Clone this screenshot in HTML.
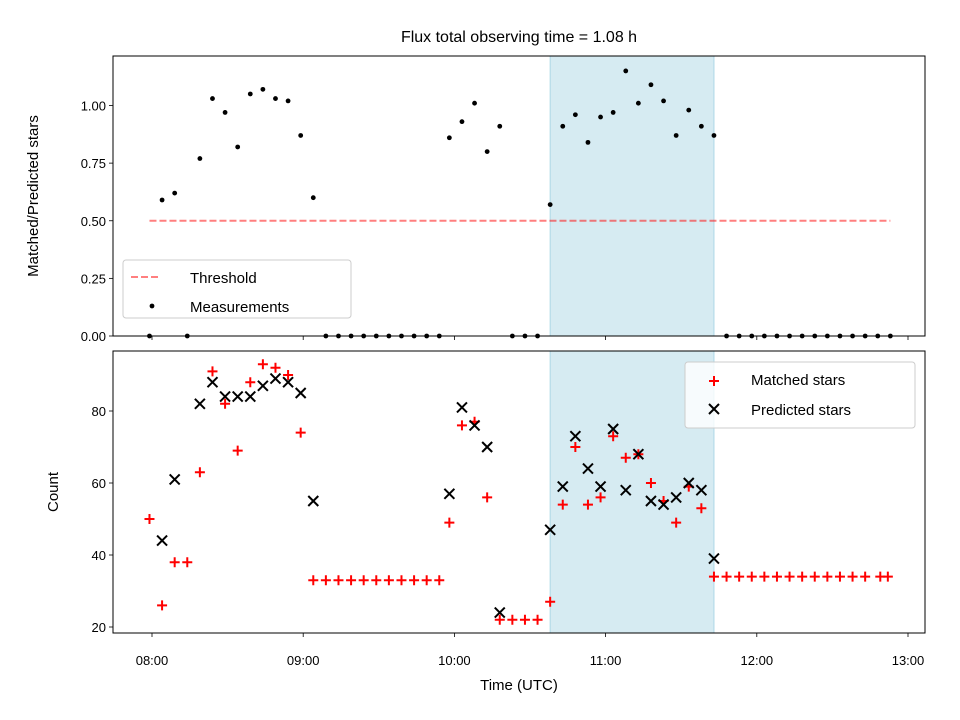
<!DOCTYPE html>
<html><head><meta charset="utf-8"><style>
body{margin:0;background:#fff}
svg{display:block;font-family:"Liberation Sans","DejaVu Sans",sans-serif}
</style></head><body>
<svg id="c" width="960" height="720" xmlns="http://www.w3.org/2000/svg"></svg>
<script>
// minutes since 08:00
const tMatched=[-1,4,9,14,19,24,29,34,39,44,49,54,59,64,69,74,79,84,89,94,99,104,109,114,118,123,128,133,138,143,148,153,158,163,168,173,178,183,188,193,198,203,208,213,218,223,228,233,238,243,248,253,258,263,268,273,278,283,289,292];
const matched=[50,26,38,38,63,91,82,69,88,93,92,90,74,33,33,33,33,33,33,33,33,33,33,33,49,76,77,56,22,22,22,22,27,54,70,54,56,73,67,68,60,55,49,59,53,34,34,34,34,34,34,34,34,34,34,34,34,34,34,34];
const tPred=[4,9,19,24,29,34,39,44,49,54,59,64,118,123,128,133,138,158,163,168,173,178,183,188,193,198,203,208,213,218,223];
const pred=[44,61,82,88,84,84,84,87,89,88,85,55,57,81,76,70,24,47,59,73,64,59,75,58,68,55,54,56,60,58,39];
const tRatio=[-1,4,9,14,19,24,29,34,39,44,49,54,59,64,69,74,79,84,89,94,99,104,109,114,118,123,128,133,138,143,148,153,158,163,168,173,178,183,188,193,198,203,208,213,218,223,228,233,238,243,248,253,258,263,268,273,278,283,288,293];
const ratio=[0,0.59,0.62,0,0.77,1.03,0.97,0.82,1.05,1.07,1.03,1.02,0.87,0.60,0,0,0,0,0,0,0,0,0,0,0.86,0.93,1.01,0.80,0.91,0,0,0,0.57,0.91,0.96,0.84,0.95,0.97,1.15,1.01,1.09,1.02,0.87,0.98,0.91,0.87,0,0,0,0,0,0,0,0,0,0,0,0,0,0];
const xTicks=["08:00","09:00","10:00","11:00","12:00","13:00"];
const topTicks=[0,0.25,0.5,0.75,1.0];
const botTicks=[20,40,60,80];
const threshold=0.5, thrStart=-1, thrEnd=293;
const spanStart=158, spanEnd=223;

const NS="http://www.w3.org/2000/svg";
const svg=document.getElementById('c');
function el(tag,attrs,parent){const e=document.createElementNS(NS,tag);for(const k in attrs)e.setAttribute(k,attrs[k]);(parent||svg).appendChild(e);return e;}
const L=113,R=925;
const X=m=>152+m*151.2/60;
const Y1=v=>336-v*230.5;
const Y2=v=>627-(v-20)*3.6;

let t=el('text',{x:519,y:42,'text-anchor':'middle','font-size':16,fill:'#000'});t.textContent='Flux total observing time = 1.08 h';



function panel(y0,y1,name){
  const g=el('g',{});
  
  
  const sp=el('rect',{x:X(spanStart),y:y0,width:X(spanEnd)-X(spanStart),height:y1-y0,fill:'#add8e6','fill-opacity':0.5,stroke:'#add8e6'},g);
  
  
  xTicks.forEach((s,i)=>{el('line',{x1:X(i*60),x2:X(i*60),y1:y1,y2:y1+4,stroke:'#000','stroke-width':0.8},g);});
  return g;
}
const g1=panel(56,336,'top-panel');
const g2=panel(351,633,'bottom-panel');

topTicks.forEach(v=>{const y=Y1(v);el('line',{x1:L-4,x2:L,y1:y,y2:y,stroke:'#000','stroke-width':0.8},g1);
 const tx=el('text',{x:L-7,y:y+5,'text-anchor':'end','font-size':13},g1);tx.textContent=v.toFixed(2);
 
 });
botTicks.forEach(v=>{const y=Y2(v);el('line',{x1:L-4,x2:L,y1:y,y2:y,stroke:'#000','stroke-width':0.8},g2);
 const tx=el('text',{x:L-7,y:y+5,'text-anchor':'end','font-size':13},g2);tx.textContent=v;
 
 });
xTicks.forEach((s,i)=>{const tx=el('text',{x:X(i*60),y:665,'text-anchor':'middle','font-size':13},g2);tx.textContent=s;
 
 });

const th=el('line',{x1:X(thrStart),x2:X(thrEnd),y1:Y1(threshold),y2:Y1(threshold),stroke:'#ff0000','stroke-opacity':0.5,'stroke-width':2,'stroke-dasharray':'7,3'},g1);


tRatio.forEach((m,i)=>{const c=el('circle',{cx:X(m),cy:Y1(ratio[i]),r:2.4,fill:'#000'},g1);
 
 });
tMatched.forEach((m,i)=>{const x=X(m),y=Y2(matched[i]);
 const p=el('path',{d:`M${x-5},${y}H${x+5}M${x},${y-5}V${y+5}`,stroke:'#ff0000','stroke-width':2},g2);
 
 });
tPred.forEach((m,i)=>{const x=X(m),y=Y2(pred[i]);
 const p=el('path',{d:`M${x-5},${y-5}L${x+5},${y+5}M${x-5},${y+5}L${x+5},${y-5}`,stroke:'#000','stroke-width':2},g2);
 
 });

el('rect',{x:L,y:56,width:R-L,height:280,fill:'none',stroke:'#000','stroke-width':1},g1);
el('rect',{x:L,y:351,width:R-L,height:282,fill:'none',stroke:'#000','stroke-width':1},g2);

let a=el('text',{x:519,y:690,'text-anchor':'middle','font-size':15});a.textContent='Time (UTC)';


a=el('text',{x:0,y:0,'text-anchor':'middle','font-size':15,transform:'translate(38,196) rotate(-90)'});a.textContent='Matched/Predicted stars';


a=el('text',{x:0,y:0,'text-anchor':'middle','font-size':15,transform:'translate(58,492) rotate(-90)'});a.textContent='Count';



const lg1=el('g',{});


el('rect',{x:123,y:260,width:228,height:58,rx:3,fill:'#fff','fill-opacity':0.8,stroke:'#ccc'},lg1);
el('line',{x1:131,x2:159,y1:277,y2:277,stroke:'#ff0000','stroke-opacity':0.5,'stroke-width':2,'stroke-dasharray':'7,3'},lg1);
let lt=el('text',{x:190,y:283,'font-size':15},lg1);lt.textContent='Threshold';
el('circle',{cx:152,cy:306,r:2.4,fill:'#000'},lg1);
lt=el('text',{x:190,y:312,'font-size':15},lg1);lt.textContent='Measurements';

const lg2=el('g',{});


el('rect',{x:685,y:362,width:230,height:66,rx:3,fill:'#fff','fill-opacity':0.8,stroke:'#ccc'},lg2);
el('path',{d:'M709,381H719M714,376V386',stroke:'#ff0000','stroke-width':2},lg2);
lt=el('text',{x:751,y:385,'font-size':15},lg2);lt.textContent='Matched stars';
el('path',{d:'M709,404L719,414M709,414L719,404',stroke:'#000','stroke-width':2},lg2);
lt=el('text',{x:751,y:415,'font-size':15},lg2);lt.textContent='Predicted stars';
</script>
</body></html>
